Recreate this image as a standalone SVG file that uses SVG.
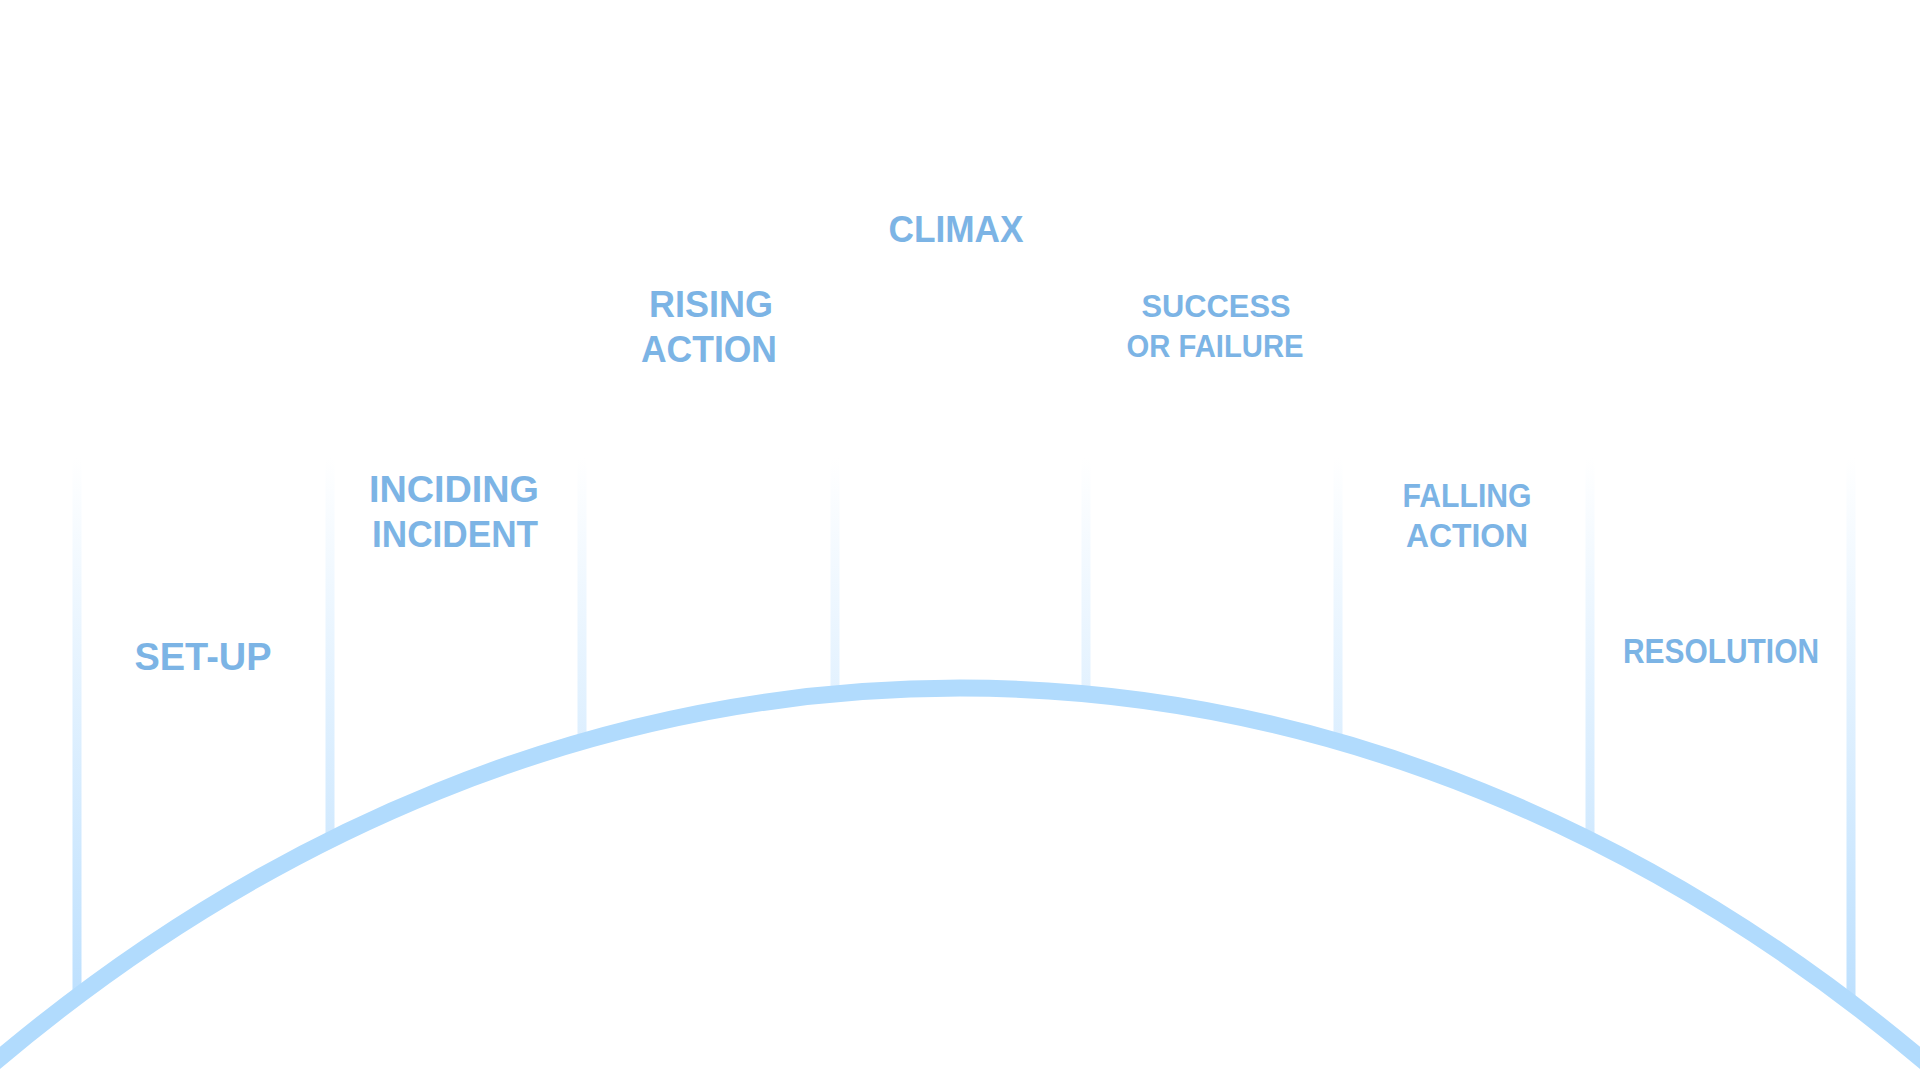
<svg xmlns="http://www.w3.org/2000/svg" width="1920" height="1080" viewBox="0 0 1920 1080">
  <style>
    .lbl { font-family: "Liberation Sans", Arial, sans-serif; font-weight: bold; fill: #7cb4e5; text-anchor: middle; }
    .div { fill: url(#divGrad); }
    .arc { fill: none; stroke: #b1dbfd; stroke-width: 17; }
  </style>
  <defs>
    <linearGradient id="divGrad" gradientUnits="userSpaceOnUse" x1="0" y1="458" x2="0" y2="1000">
      <stop offset="0" stop-color="#ffffff"/>
      <stop offset="1" stop-color="#bde0fe"/>
    </linearGradient>
  </defs>
  <rect x="0" y="0" width="1920" height="1080" fill="#ffffff"/>

  <g id="dividers">
    <rect class="div" x="72.5" y="458" width="9" height="540"/>
    <rect class="div" x="325.5" y="458" width="9" height="383"/>
    <rect class="div" x="577.5" y="458" width="9" height="284"/>
    <rect class="div" x="830.5" y="458" width="9" height="237"/>
    <rect class="div" x="1081.5" y="458" width="9" height="237"/>
    <rect class="div" x="1333.5" y="458" width="9" height="284"/>
    <rect class="div" x="1585.5" y="458" width="9" height="383"/>
    <rect class="div" x="1846.5" y="458" width="9" height="546"/>
  </g>

  <g id="connectors">
    <path class="arc" d="M -20 1075 A 1800 2400 0 0 1 1940 1075"/>
  </g>

  <g id="setup">
    <text class="lbl" x="203" y="670" font-size="38" textLength="137" lengthAdjust="spacingAndGlyphs">SET-UP</text>
  </g>
  <g id="inciding-incident">
    <text class="lbl" x="454" y="502" font-size="37" textLength="170" lengthAdjust="spacingAndGlyphs">INCIDING</text>
    <text class="lbl" x="455" y="547" font-size="37" textLength="166" lengthAdjust="spacingAndGlyphs">INCIDENT</text>
  </g>
  <g id="rising-action">
    <text class="lbl" x="711" y="317" font-size="37" textLength="124" lengthAdjust="spacingAndGlyphs">RISING</text>
    <text class="lbl" x="709" y="362" font-size="37" textLength="136" lengthAdjust="spacingAndGlyphs">ACTION</text>
  </g>
  <g id="climax">
    <text class="lbl" x="956" y="242" font-size="37" textLength="135" lengthAdjust="spacingAndGlyphs">CLIMAX</text>
  </g>
  <g id="success-or-failure">
    <text class="lbl" x="1216" y="317" font-size="32" textLength="149" lengthAdjust="spacingAndGlyphs">SUCCESS</text>
    <text class="lbl" x="1215" y="357" font-size="32" textLength="177" lengthAdjust="spacingAndGlyphs">OR FAILURE</text>
  </g>
  <g id="falling-action">
    <text class="lbl" x="1467" y="507" font-size="34" textLength="129" lengthAdjust="spacingAndGlyphs">FALLING</text>
    <text class="lbl" x="1467" y="547" font-size="34" textLength="122" lengthAdjust="spacingAndGlyphs">ACTION</text>
  </g>
  <g id="resolution">
    <text class="lbl" x="1721" y="663" font-size="35" textLength="196" lengthAdjust="spacingAndGlyphs">RESOLUTION</text>
  </g>
</svg>
